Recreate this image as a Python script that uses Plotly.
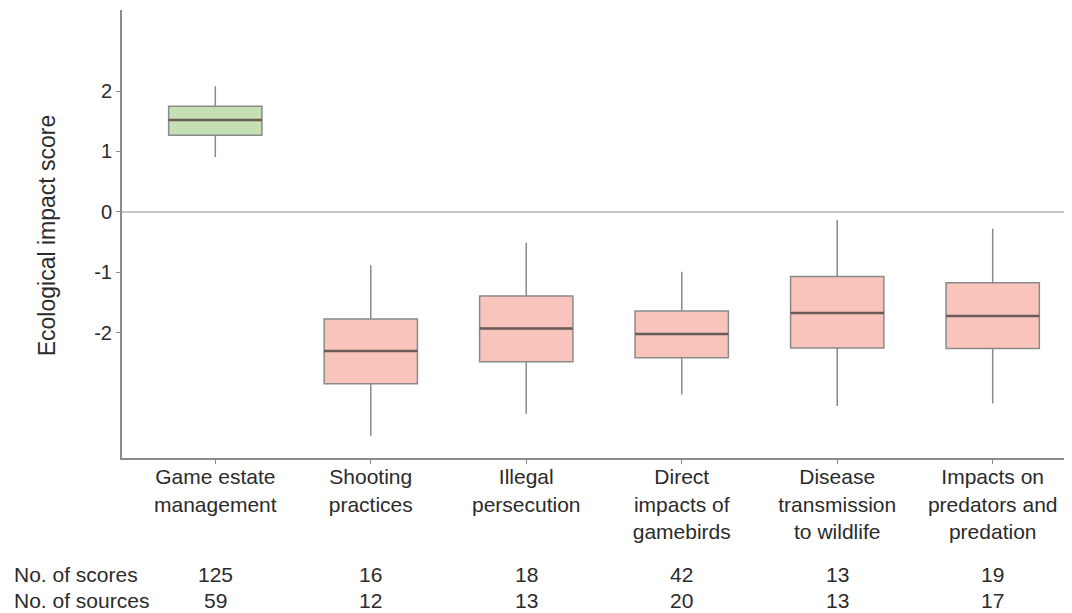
import plotly.graph_objects as go

categories = ["Game estate<br>management", "Shooting<br>practices", "Illegal<br>persecution",
              "Direct<br>impacts of<br>gamebirds", "Disease<br>transmission<br>to wildlife",
              "Impacts on<br>predators and<br>predation"]
upper_fence = [2.08, -0.88, -0.51, -0.99, -0.13, -0.28]
q3 = [1.75, -1.77, -1.39, -1.64, -1.07, -1.17]
median = [1.52, -2.30, -1.93, -2.02, -1.67, -1.72]
q1 = [1.27, -2.84, -2.48, -2.41, -2.25, -2.26]
lower_fence = [0.91, -3.70, -3.34, -3.02, -3.21, -3.17]
n_scores = [125, 16, 18, 42, 13, 19]
n_sources = [59, 12, 13, 20, 13, 17]
y_ticks = [-2, -1, 0, 1, 2]
y_tick_labels = ["-2", "-1", "0", "1", "2"]

FONT = "Arial, Liberation Sans, sans-serif"
TXT = "#2b2b2b"
BOX_W = 0.6
FS = 21

fig = go.Figure()
xs = list(range(len(categories)))
groups = [([0], "#c5e0b4"), (xs[1:], "#f8c4bc")]
for idx, fill in groups:
    fig.add_trace(go.Box(
        x=idx,
        q1=[q1[i] for i in idx], median=[median[i] for i in idx], q3=[q3[i] for i in idx],
        lowerfence=[lower_fence[i] for i in idx], upperfence=[upper_fence[i] for i in idx],
        fillcolor=fill, line=dict(color="#8a8a8a", width=1.5),
        width=BOX_W, whiskerwidth=0, boxpoints=False, showlegend=False, hoverinfo="skip",
    ))

mx, my = [], []
for i in xs:
    mx += [i - BOX_W / 2, i + BOX_W / 2, None]
    my += [median[i], median[i], None]
fig.add_trace(go.Scatter(x=mx, y=my, mode="lines", line=dict(color="#6a5a58", width=2.5),
                         showlegend=False, hoverinfo="skip"))

row1, row2 = -0.259, -0.317
for i in xs:
    fig.add_annotation(x=i, y=row1, xref="x", yref="paper", text=str(n_scores[i]),
                       showarrow=False, yanchor="middle", xanchor="center",
                       font=dict(size=FS, color=TXT, family=FONT))
    fig.add_annotation(x=i, y=row2, xref="x", yref="paper", text=str(n_sources[i]),
                       showarrow=False, yanchor="middle", xanchor="center",
                       font=dict(size=FS, color=TXT, family=FONT))
fig.add_annotation(x=-0.116, y=row1, xref="paper", yref="paper", text="No. of scores",
                   showarrow=False, xanchor="left", yanchor="middle",
                   font=dict(size=FS, color=TXT, family=FONT))
fig.add_annotation(x=-0.116, y=row2, xref="paper", yref="paper", text="No. of sources",
                   showarrow=False, xanchor="left", yanchor="middle",
                   font=dict(size=FS, color=TXT, family=FONT))
fig.add_annotation(x=-0.079, y=0.497, xref="paper", yref="paper", text="Ecological impact score",
                   showarrow=False, textangle=-90, xanchor="center", yanchor="middle",
                   font=dict(size=23, color=TXT, family=FONT))

fig.update_layout(
    width=1064, height=605,
    margin=dict(l=114, r=0, t=2, b=155),
    paper_bgcolor="white", plot_bgcolor="white",
    boxmode="overlay",
    font=dict(family=FONT, size=FS, color=TXT),
    xaxis=dict(range=[-0.6, 5.51], tickmode="array", tickvals=xs, ticktext=categories,
               showline=True, linecolor="#8c8c8c", linewidth=2, ticks="outside", ticklen=4,
               tickcolor="#8c8c8c", showgrid=False, zeroline=False, tickangle=0,
               ticklabelstandoff=-5, tickfont=dict(size=FS, color=TXT)),
    yaxis=dict(range=[-4.07, 3.34], tickmode="array", tickvals=y_ticks, ticktext=y_tick_labels,
               showline=True, linecolor="#8c8c8c", linewidth=2, ticks="outside", ticklen=4,
               tickcolor="#8c8c8c", showgrid=False, zeroline=True, zerolinecolor="#c8c8c8",
               zerolinewidth=2, tickfont=dict(size=20, color=TXT)),
)

fig.write_html("out.html")
